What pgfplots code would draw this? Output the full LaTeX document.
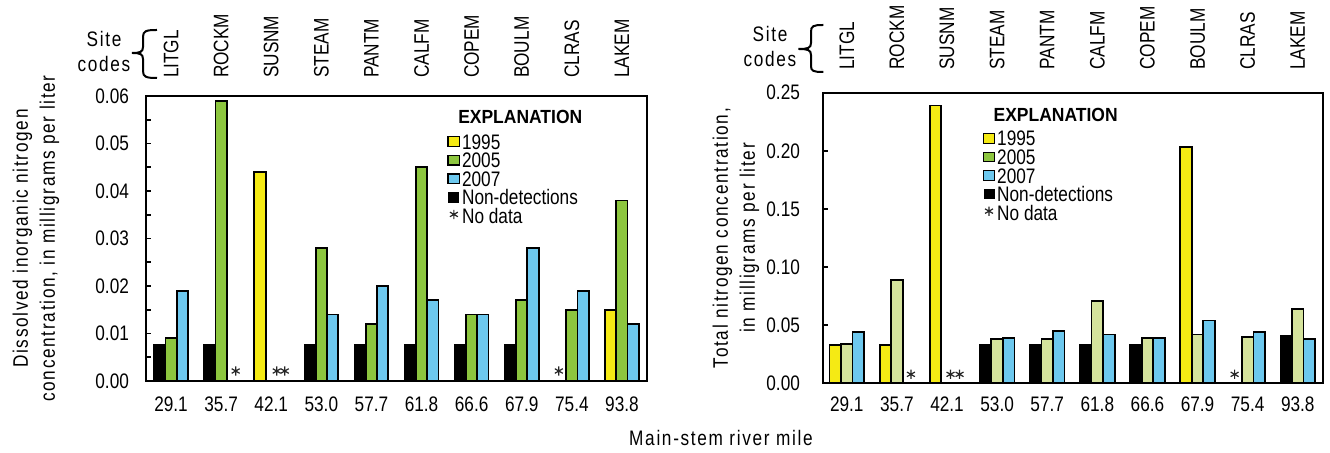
\documentclass[border=0pt]{standalone}
\usepackage{pgfplots}
\pgfplotsset{compat=1.18}
\usepackage{fontspec}
\setmainfont[FakeStretch=0.82]{Liberation Sans}
\newfontfamily\explfont[FakeStretch=0.92]{Liberation Sans}
\newfontfamily\spfont[FakeStretch=0.82, LetterSpace=8]{Liberation Sans}
\definecolor{cyel}{RGB}{245,234,20}
\definecolor{cgrn}{RGB}{141,198,63}
\definecolor{cblu}{RGB}{109,200,238}
\definecolor{cpale}{RGB}{213,227,156}
\newcommand{\fs}{\fontsize{10.5}{12}\selectfont}
\pgfplotsset{
  boxlegend/.style={legend image code/.code={\draw[##1,line width=0.6pt] (0pt,-2.4pt) rectangle (5.8pt,2.4pt);}},
  blklegend/.style={legend image code/.code={\fill[black] (0.6pt,-2.2pt) rectangle (5.2pt,2.2pt);}},
  astlegend/.style={legend image code/.code={\draw[black!85,line width=0.6pt] plot[mark=asterisk, mark size=2.3pt, only marks] coordinates {(2.9pt,0.8pt)};}},
  common/.style={
    scale only axis, anchor=south west,
    xmax=9.5, ymin=0,
    xtick={0,...,9},
    xticklabels={29.1,35.7,42.1,53.0,57.7,61.8,66.6,67.9,75.4,93.8},
    major x tick style={draw=none},
    ytick pos=left, tick align=inside,
    major tick length=2.5pt, minor tick length=2.5pt,
    tick style={black, line width=0.8pt},
    scaled y ticks=false,
    /pgf/number format/assume math mode=true,
    yticklabel style={/pgf/number format/.cd, fixed, fixed zerofill, precision=2, /tikz/.cd},
    axis line style={line width=1pt},
    font=\fs,
    legend cell align=left,
    legend style={anchor=north west, draw=none, fill=none, font=\fs, row sep=0pt,
      nodes={inner sep=0.9pt, text height=7.5pt, text depth=0pt}},
  },
  sites/.style={
    scale only axis, anchor=south west, xmax=9.5, ymin=0, ymax=1,
    hide y axis, axis x line*=top, axis line style={draw=none},
    xtick={0,...,9},
    xticklabels={LITGL,ROCKM,SUSNM,STEAM,PANTM,CALFM,COPEM,BOULM,CLRAS,LAKEM},
    major x tick style={draw=none}, major tick length=0pt,
    x tick label style={rotate=90, anchor=west, inner sep=0pt, font=\fs},
  },
}
\begin{document}
\begin{tikzpicture}
\useasboundingbox (0,0) rectangle (665pt,226.5pt);
% ---------------- left panel ----------------
\begin{axis}[common,
  at={(73pt,36pt)}, width=250.5pt, height=142.5pt,
  xmin=-0.5, ymax=0.06,
  ytick={0,0.01,0.02,0.03,0.04,0.05,0.06},
  minor ytick={0.005,0.015,0.025,0.035,0.045,0.055},
  xticklabel style={yshift=-4.5pt},
  yticklabel style={xshift=-5pt},
  legend style={at={(0.589,0.888)}},
]
\addplot[ybar, bar width=0.225, bar shift=-0.225, fill=cyel, draw=black, line width=0.9pt, boxlegend]
  coordinates {(2,0.044) (9,0.015)};
\addplot[ybar, bar width=0.225, bar shift=0, fill=cgrn, draw=black, line width=0.9pt, boxlegend]
  coordinates {(0,0.009) (1,0.059) (3,0.028) (4,0.012) (5,0.045) (6,0.014) (7,0.017) (8,0.015) (9,0.038)};
\addplot[ybar, bar width=0.225, bar shift=0.225, fill=cblu, draw=black, line width=0.9pt, boxlegend]
  coordinates {(0,0.019) (3,0.014) (4,0.020) (5,0.017) (6,0.014) (7,0.028) (8,0.019) (9,0.012)};
\addplot[ybar, bar width=0.225, bar shift=-0.225, fill=black, draw=black, line width=0.9pt, blklegend]
  coordinates {(0,0.0075) (1,0.0075) (3,0.0075) (4,0.0075) (5,0.0075) (6,0.0075) (7,0.0075)};
\addplot[only marks, mark=asterisk, mark size=2.3pt, mark options={draw=black!85, line width=0.6pt}, astlegend]
  coordinates {(1.29,0.0021) (2.11,0.0021) (2.27,0.0021) (7.74,0.0021)};
\legend{1995,2005,2007,Non-detections,No data}
\node[font=\fontsize{9.5}{11}\selectfont\explfont\bfseries] at (axis description cs:0.747,0.925) {EXPLANATION};
\end{axis}
\begin{axis}[sites, at={(73pt,36pt)}, width=250.5pt, height=142.5pt, xmin=-0.5, xticklabel shift=8.85pt]
\addplot[draw=none] coordinates {(0,0.5)};
\end{axis}
% ---------------- right panel ----------------
\begin{axis}[common,
  at={(411.7pt,34.85pt)}, width=249.7pt, height=145.3pt,
  xmin=-0.467, ymax=0.25,
  ytick={0,0.05,0.10,0.15,0.20,0.25},
  xticklabel style={yshift=-3.3pt},
  yticklabel style={xshift=-8.2pt},
  legend style={at={(0.306,0.89)}},
]
\addplot[ybar, bar width=0.23, bar shift=-0.23, fill=cyel, draw=black, line width=0.9pt, boxlegend]
  coordinates {(0,0.033) (1,0.033) (2,0.239) (7,0.203)};
\addplot[ybar, bar width=0.23, bar shift=0, fill=cpale, draw=black, line width=0.9pt,
  legend image code/.code={\draw[fill=cgrn,draw=black,line width=0.6pt] (0pt,-2.4pt) rectangle (5.8pt,2.4pt);}]
  coordinates {(0,0.034) (1,0.089) (3,0.038) (4,0.038) (5,0.071) (6,0.039) (7,0.042) (8,0.040) (9,0.064)};
\addplot[ybar, bar width=0.23, bar shift=0.23, fill=cblu, draw=black, line width=0.9pt, boxlegend]
  coordinates {(0,0.044) (3,0.039) (4,0.045) (5,0.042) (6,0.039) (7,0.054) (8,0.044) (9,0.038)};
\addplot[ybar, bar width=0.23, bar shift=-0.23, fill=black, draw=black, line width=0.9pt, blklegend]
  coordinates {(3,0.033) (4,0.033) (5,0.033) (6,0.033) (9,0.041)};
\addplot[only marks, mark=asterisk, mark size=2.3pt, mark options={draw=black!85, line width=0.6pt}, astlegend]
  coordinates {(1.28,0.0077) (2.07,0.0077) (2.25,0.0077) (7.74,0.0077)};
\legend{1995,2005,2007,Non-detections,No data}
\node[font=\fontsize{9.5}{11}\selectfont\explfont\bfseries] at (axis description cs:0.465,0.924) {EXPLANATION};
\end{axis}
\begin{axis}[sites, at={(411.7pt,34.85pt)}, width=249.7pt, height=145.3pt, xmin=-0.467, xticklabel shift=11.35pt]
\addplot[draw=none] coordinates {(0,0.5)};
\end{axis}
% ---------------- annotations ----------------
\node[font=\fs\spfont, align=center, rotate=90] at (18pt,107.25pt)
  {Dissolved inorganic nitrogen\\[1.5pt]concentration, in milligrams per liter};
\node[font=\fs\spfont, align=center, rotate=90] at (368pt,107.5pt)
  {Total nitrogen concentration,\\[1.5pt]in milligrams per liter};
\node[font=\fs\spfont] at (360.5pt,7.5pt) {Main-stem river mile};
\node[font=\fs\spfont, align=center] at (52pt,200.5pt) {Site\\[0.5pt]codes};
\node[font=\fs\spfont, align=center] at (385pt,203pt) {Site\\[0.5pt]codes};
\draw[line width=1pt] (78.5pt,211.5pt) .. controls (73pt,211.5pt) and (71.5pt,211pt) .. (71.5pt,208pt)
  -- (71.5pt,203pt) .. controls (71.5pt,200.5pt) and (70pt,200pt) .. (66pt,200pt)
  .. controls (70pt,200pt) and (71.5pt,199.5pt) .. (71.5pt,197pt)
  -- (71.5pt,191pt) .. controls (71.5pt,188pt) and (73pt,187.5pt) .. (78.5pt,187.5pt);
\draw[line width=1pt] (411.7pt,214pt) .. controls (406.5pt,214pt) and (405.5pt,213.5pt) .. (405.5pt,210.5pt)
  -- (405.5pt,205pt) .. controls (405.5pt,202.5pt) and (404pt,202pt) .. (399.2pt,202pt)
  .. controls (404pt,202pt) and (405.5pt,201.5pt) .. (405.5pt,199pt)
  -- (405.5pt,193.5pt) .. controls (405.5pt,191pt) and (406.5pt,190.5pt) .. (411.7pt,190.5pt);
\end{tikzpicture}
\end{document}
